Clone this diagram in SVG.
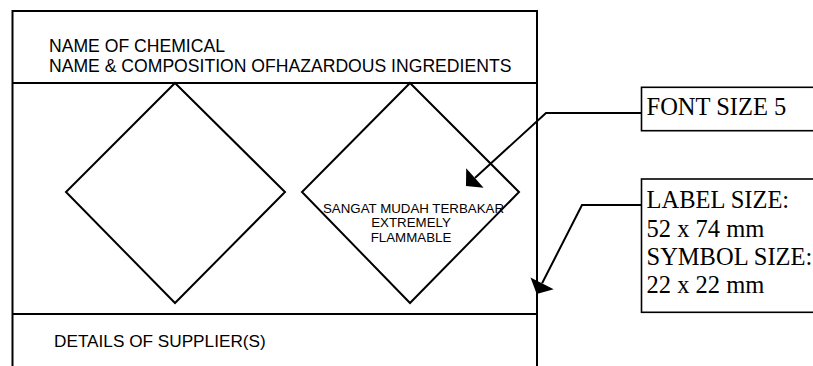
<svg xmlns="http://www.w3.org/2000/svg" width="813" height="366" viewBox="0 0 813 366">
<style>
  .ln { fill: none; stroke: #000; stroke-width: 2; }
  .thin { fill: none; stroke: #000; stroke-width: 1.6; }
  .sans { font-family: "Liberation Sans", Arial, sans-serif; fill: #000; }
  .serif { font-family: "Liberation Serif", "Times New Roman", serif; fill: #000; font-size: 24.5px; }
  .head { fill: #000; stroke: none; }
</style>
<rect width="813" height="366" fill="#fff"/>
<g id="label">
  <path class="ln" d="M12.5,366 V11 H537 V366"/>
  <line class="ln" x1="12.5" y1="83" x2="537" y2="83"/>
  <line class="ln" x1="12.5" y1="314" x2="537" y2="314"/>
  <text class="sans" x="49" y="52" font-size="17.6">NAME OF CHEMICAL</text>
  <text class="sans" x="49" y="72" font-size="17.6">NAME &amp; COMPOSITION OFHAZARDOUS INGREDIENTS</text>
  <text class="sans" x="54" y="346.5" font-size="17.2">DETAILS OF SUPPLIER(S)</text>
</g>
<g id="symbol-left">
  <polygon class="ln" points="175,83 285,192 175,303 66,192"/>
</g>
<g id="symbol-right">
  <polygon class="ln" points="410,83 519,192 410,303 302,192"/>
  <text class="sans" font-size="13.3" text-anchor="middle" x="413.5" y="212.5">SANGAT MUDAH TERBAKAR</text>
  <text class="sans" font-size="13.3" text-anchor="middle" x="411" y="226.7">EXTREMELY</text>
  <text class="sans" font-size="13.3" text-anchor="middle" x="411" y="241.7">FLAMMABLE</text>
</g>
<g id="note-font">
  <rect class="thin" x="641.5" y="87.3" width="200" height="43.4"/>
  <text class="serif" x="646.5" y="115">FONT SIZE 5</text>
</g>
<g id="note-size">
  <rect class="thin" x="641.5" y="179" width="200" height="133.3"/>
  <text class="serif" x="646.5" y="208.3">LABEL SIZE:</text>
  <text class="serif" x="646.5" y="236.7">52 x 74 mm</text>
  <text class="serif" x="646.5" y="265">SYMBOL SIZE:</text>
  <text class="serif" x="646.5" y="293.3">22 x 22 mm</text>
</g>
<g id="connectors">
  <polyline class="ln" points="641.5,113 546,113 474.9,178"/>
  <polygon class="head" points="466,186 483.6,187.7 466.2,168.3"/>
  <polyline class="ln" points="641.5,205 582,205 542.1,283.3"/>
  <polygon class="head" points="536.7,294 553.7,289.2 530.5,277.4"/>
</g>
</svg>
